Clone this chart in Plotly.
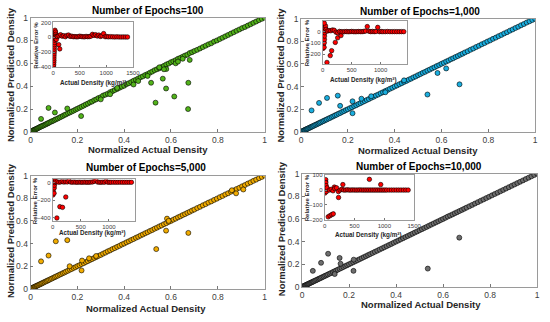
import plotly.graph_objects as go

W, H = 550, 322

# ---------------- data ----------------
actual = [0.003,0.006,0.009,0.012,0.015,0.018,0.021,0.024,0.027,0.030,
          0.034,0.038,0.042,0.046,0.050,0.055,0.060,0.065,0.070,0.075,
          0.080,0.086,0.092,0.098,0.104,0.110,0.117,0.124,0.131,0.138,
          0.145,0.152,0.160,0.168,0.176,0.184,0.192,0.200,0.209,0.218,
          0.227,0.236,0.245,0.254,0.263,0.272,0.281,0.290,0.300,0.310,
          0.320,0.330,0.340,0.350,0.360,0.370,0.380,0.390,0.400,0.410,
          0.420,0.430,0.440,0.450,0.460,0.470,0.480,0.490,0.500,0.510,
          0.520,0.530,0.540,0.550,0.560,0.570,0.580,0.590,0.600,0.610,
          0.620,0.630,0.640,0.650,0.660,0.670,0.680,0.690,0.700,0.712,
          0.724,0.736,0.748,0.760,0.772,0.784,0.796,0.808,0.820,0.832,
          0.844,0.856,0.868,0.880,0.892,0.904,0.916,0.928,0.940,0.952,
          0.964,0.976,0.988,1.000]

pred_100 = [0.004,0.007,0.010,0.014,0.016,0.020,0.022,0.026,0.028,0.032,
            0.036,0.040,0.045,0.048,0.053,0.056,0.062,0.066,0.072,0.076,
            0.082,0.088,0.094,0.099,0.106,0.112,0.118,0.126,0.133,0.140,
            0.148,0.154,0.163,0.170,0.178,0.186,0.195,0.203,0.212,0.221,
            0.230,0.240,0.248,0.259,0.266,0.278,0.285,0.296,0.304,0.318,
            0.326,0.334,0.348,0.356,0.366,0.376,0.386,0.396,0.404,0.418,
            0.426,0.436,0.448,0.456,0.468,0.478,0.486,0.498,0.506,0.518,
            0.528,0.540,0.548,0.556,0.568,0.578,0.590,0.598,0.610,0.618,
            0.628,0.640,0.648,0.658,0.668,0.676,0.690,0.698,0.708,0.718,
            0.730,0.742,0.754,0.766,0.776,0.790,0.800,0.812,0.824,0.836,
            0.848,0.860,0.872,0.884,0.896,0.908,0.918,0.930,0.942,0.954,
            0.966,0.978,0.989,0.998]
out_x_100 = [0.045,0.077,0.104,0.157,0.216,0.515,0.534,0.565,0.579,0.614,0.673,0.674,0.680,0.440,0.580,0.620,0.300,0.340,0.370,0.460,0.500,0.550,0.570,0.630,0.650]
out_y_100 = [0.114,0.210,0.170,0.205,0.139,0.430,0.256,0.466,0.380,0.310,0.200,0.430,0.630,0.415,0.550,0.600,0.285,0.330,0.385,0.445,0.490,0.565,0.548,0.615,0.640]

pred_1000 = [0.003,0.006,0.010,0.012,0.016,0.018,0.022,0.024,0.028,0.030,
             0.035,0.038,0.043,0.046,0.051,0.055,0.061,0.065,0.071,0.075,
             0.081,0.086,0.093,0.098,0.105,0.110,0.118,0.124,0.132,0.138,
             0.146,0.152,0.161,0.168,0.177,0.184,0.193,0.200,0.210,0.218,
             0.228,0.236,0.246,0.254,0.264,0.272,0.282,0.290,0.301,0.310,
             0.321,0.330,0.341,0.350,0.361,0.370,0.381,0.390,0.401,0.410,
             0.421,0.430,0.441,0.450,0.461,0.470,0.481,0.490,0.501,0.510,
             0.521,0.530,0.541,0.550,0.561,0.570,0.581,0.590,0.601,0.610,
             0.621,0.630,0.641,0.650,0.661,0.670,0.681,0.690,0.701,0.712,
             0.725,0.736,0.749,0.760,0.773,0.784,0.797,0.808,0.821,0.832,
             0.845,0.856,0.869,0.880,0.893,0.904,0.917,0.928,0.941,0.952,
             0.965,0.976,0.988,0.998]
out_x_1000 = [0.045,0.077,0.111,0.157,0.167,0.220,0.220,0.540,0.583,0.620,0.677,0.258,0.300,0.360,0.440]
out_y_1000 = [0.190,0.256,0.300,0.320,0.230,0.165,0.270,0.330,0.520,0.560,0.420,0.293,0.315,0.350,0.455]

pred_5000 = [0.004,0.007,0.009,0.013,0.015,0.019,0.021,0.025,0.027,0.031,
             0.034,0.039,0.042,0.047,0.050,0.056,0.060,0.066,0.070,0.076,
             0.080,0.087,0.092,0.099,0.104,0.111,0.117,0.125,0.131,0.139,
             0.145,0.153,0.160,0.169,0.176,0.185,0.192,0.201,0.209,0.219,
             0.227,0.237,0.245,0.255,0.263,0.273,0.281,0.291,0.300,0.311,
             0.320,0.331,0.340,0.351,0.360,0.371,0.380,0.391,0.400,0.411,
             0.420,0.431,0.440,0.451,0.460,0.471,0.480,0.491,0.500,0.511,
             0.520,0.531,0.540,0.551,0.560,0.571,0.580,0.591,0.600,0.611,
             0.620,0.631,0.640,0.651,0.660,0.671,0.680,0.691,0.700,0.713,
             0.724,0.737,0.748,0.761,0.772,0.785,0.796,0.809,0.820,0.833,
             0.844,0.857,0.868,0.881,0.892,0.905,0.916,0.929,0.940,0.953,
             0.964,0.977,0.988,1.000]
out_x_5000 = [0.045,0.077,0.108,0.157,0.167,0.218,0.220,0.250,0.280,0.537,0.579,0.583,0.590,0.674,0.878,0.909,0.860]
out_y_5000 = [0.243,0.294,0.420,0.430,0.200,0.163,0.250,0.270,0.290,0.351,0.514,0.620,0.600,0.494,0.843,0.877,0.870]

pred_10000 = [0.003,0.006,0.009,0.012,0.015,0.018,0.021,0.024,0.027,0.030,
              0.034,0.038,0.042,0.046,0.050,0.055,0.060,0.065,0.070,0.075,
              0.080,0.086,0.092,0.098,0.104,0.110,0.117,0.124,0.131,0.138,
              0.145,0.152,0.160,0.168,0.176,0.184,0.192,0.200,0.209,0.218,
              0.227,0.236,0.245,0.254,0.263,0.272,0.281,0.290,0.300,0.310,
              0.320,0.330,0.340,0.350,0.360,0.370,0.380,0.390,0.400,0.410,
              0.420,0.430,0.440,0.450,0.460,0.470,0.480,0.490,0.500,0.510,
              0.520,0.530,0.540,0.550,0.560,0.570,0.580,0.590,0.600,0.610,
              0.621,0.630,0.640,0.650,0.660,0.670,0.680,0.690,0.700,0.712,
              0.724,0.736,0.748,0.760,0.772,0.784,0.796,0.808,0.820,0.832,
              0.844,0.856,0.868,0.880,0.892,0.904,0.916,0.928,0.940,0.952,
              0.964,0.976,0.988,1.000]
out_x_10000 = [0.046,0.081,0.111,0.139,0.160,0.164,0.219,0.220,0.535,0.669]
out_y_10000 = [0.142,0.213,0.293,0.114,0.256,0.205,0.142,0.241,0.162,0.435]

# inset data: actual density (kg/m3) vs relative error (%)
band_d = [80,110,140,170,200,230,260,290,320,350,380,410,440,470,500,530,560,590,620,650,
          680,710,740,770,800,830,860,890,920,950,980,1010,1040,1080,1120,1160,1200,1240,1280,1320,1360,1400]

err_d_100 = [8,10,12,14,15,16,18,20,20,22,24,25,26,28,30,30,32,34,35,38,40,42,45,50,55,60,70,105,124] + band_d
err_e_100 = [-400,-370,-340,-310,-280,-250,-220,-190,-160,-130,-100,-70,-40,-10,20,50,80,95,60,30,10,-20,70,40,15,-30,10,-99,-156] + \
            [12,20,35,15,22,8,25,30,12,15,8,10,6,8,15,10,8,6,12,8,10,15,40,25,35,18,30,12,20,50,8,10,6,8,6,5,6,5,4,5,4,4]

err_d_1000 = [5,8,10,12,15,18,20,22,25,28,30,32,35,40,45,50,28,60,74,131,155,218,259,316] + band_d
err_e_1000 = [-150,-120,-90,-60,-30,0,20,40,-140,-100,-70,-40,-10,10,30,50,76,20,-275,-214,-170,-96,-55,-35] + \
             [5,10,8,15,12,-5,-10,2,0,-2,0,1,-1,0,2,0,-1,0,1,0,0,2,5,45,3,0,2,0,1,38,0,1,0,0,1,0,0,0,0,0,0,0]

err_d_5000 = [5,8,10,12,15,18,20,25,28,30,35,40,45,50,75,128,175,233] + band_d
err_e_5000 = [-140,-110,-80,-50,-20,10,30,-120,-60,-30,0,20,25,10,-400,-272,-280,-163] + \
             [10,5,8,12,6,10,8,20,6,5,8,5,4,6,5,4,6,5,4,5,6,8,15,25,6,5,4,6,5,15,4,5,4,5,4,4,5,4,4,4,4,4]

err_d_10000 = [5,8,10,12,15,18,20,25,28,30,35,40,60,90,120,145,233,163,305,750,940] + band_d
err_e_10000 = [-20,0,20,40,60,70,50,30,10,-10,5,15,-180,-172,-165,-160,-50,20,37,72,37] + \
              [0,5,-5,10,15,-10,0,5,0,0,2,0,0,1,0,0,0,1,0,0,0,0,0,0,0,0,0,0,0,0,0,0,0,0,0,0,0,0,0,0,0,0]

titles = ["Number of Epochs=100", "Number of Epochs=1,000", "Number of Epochs=5,000", "Number of Epochs=10,000"]
colors = ["#52b31a", "#1aaedf", "#f2ac00", "#6e6e6e"]
preds = [pred_100, pred_1000, pred_5000, pred_10000]
outs = [(out_x_100, out_y_100), (out_x_1000, out_y_1000), (out_x_5000, out_y_5000), (out_x_10000, out_y_10000)]
insets = [(err_d_100, err_e_100), (err_d_1000, err_e_1000), (err_d_5000, err_e_5000), (err_d_10000, err_e_10000)]
main_ticks = [0, 0.2, 0.4, 0.6, 0.8, 1]
main_ticktext = ["0", "0.2", "0.4", "0.6", "0.8", "1"]

# ---------------- layout geometry (pixels) ----------------
main_box = [(29, 267, 13, 131), (304, 542, 14, 131), (29, 267, 176, 293), (305, 544, 174, 291)]
inset_box = [(52, 133, 18, 64), (326, 412, 16.5, 61), (51.5, 135, 180, 223), (328, 419, 175.5, 222)]
inset_xr = [[0, 1500], [0, 1460], [0, 1460], [0, 1500]]
inset_yr = [[-400, 200], [-290, 95], [-435, 36], [-202, 101]]
inset_yt = [[-400, -200, 0, 200], [-200, -100, 0], [-400, -200, 0], [-200, -100, 0, 100]]

title_pos = [(148, 6), (425, 6.5), (146, 168), (424, 167)]
xlab_pos = [(148, 149.5), (423, 150), (146, 313), (426, 309.5)]
ylab_pos = [(8.5, 72), (283.5, 72), (8.5, 233), (284, 231)]
ixlab_pos = [(92.7, 80.5), (367, 77), (92, 235), (372, 237.5)]
iylab_pos = [(34.5, 41), (309.5, 39), (33, 202), (309.5, 199)]

def px(x):
    return x / W

def py(y):
    return 1 - y / H

FONT = "Liberation Sans, Arial, sans-serif"

fig = go.Figure()
layout = dict(width=W, height=H, margin=dict(l=0, r=0, t=0, b=0),
              paper_bgcolor="white", plot_bgcolor="white", showlegend=False,
              font=dict(family=FONT, color="#262626"))

axis_common = dict(showline=True, mirror=True, linecolor="#9a9a9a", linewidth=0.8,
                   ticks="inside", ticklen=3, tickcolor="#777", tickwidth=0.7,
                   showgrid=False, zeroline=False)

annotations = []
for i in range(4):
    n = i + 1
    sfx = "" if n == 1 else str(n)
    x0, x1, y0, y1 = main_box[i]
    layout[f"xaxis{sfx}"] = dict(axis_common, domain=[px(x0), px(x1)], range=[0, 1],
                                 tickvals=main_ticks, ticktext=main_ticktext,
                                 tickfont=dict(size=8.5, color="#404040"), anchor=f"y{sfx}")
    layout[f"yaxis{sfx}"] = dict(axis_common, domain=[py(y1), py(y0)], range=[0, 1],
                                 tickvals=main_ticks, ticktext=main_ticktext,
                                 tickfont=dict(size=8.5, color="#404040"), anchor=f"x{sfx}")
    fig.add_trace(go.Scatter(x=actual, y=preds[i], mode="markers", xaxis=f"x{sfx}", yaxis=f"y{sfx}",
                             marker=dict(size=5, color=colors[i], line=dict(color="black", width=0.6))))
    fig.add_trace(go.Scatter(x=outs[i][0], y=outs[i][1], mode="markers", xaxis=f"x{sfx}", yaxis=f"y{sfx}",
                             marker=dict(size=5, color=colors[i], line=dict(color="black", width=0.6))))

for i in range(4):
    n = i + 5
    x0, x1, y0, y1 = inset_box[i]
    layout[f"xaxis{n}"] = dict(axis_common, domain=[px(x0), px(x1)], range=inset_xr[i],
                               tickvals=[0, 500, 1000, 1500], ticklen=2,
                               tickfont=dict(size=6, color="#404040"), anchor=f"y{n}")
    layout[f"yaxis{n}"] = dict(axis_common, domain=[py(y1), py(y0)], range=inset_yr[i],
                               tickvals=inset_yt[i], ticklen=2,
                               tickfont=dict(size=6, color="#404040"), anchor=f"x{n}")
    fig.add_trace(go.Scatter(x=insets[i][0], y=insets[i][1], mode="markers",
                             xaxis=f"x{n}", yaxis=f"y{n}",
                             marker=dict(size=4.5, color="#ff0000", line=dict(color="black", width=0.6))))

for i in range(4):
    annotations.append(dict(text=f"<b>{titles[i]}</b>", x=px(title_pos[i][0]), y=py(title_pos[i][1]),
                            xref="paper", yref="paper", showarrow=False, xanchor="center", yanchor="middle",
                            borderpad=0, font=dict(size=10, color="#000")))
    annotations.append(dict(text="<b>Normalized Actual Density</b>", x=px(xlab_pos[i][0]), y=py(xlab_pos[i][1]),
                            xref="paper", yref="paper", showarrow=False, xanchor="center", yanchor="middle",
                            borderpad=0, font=dict(size=9.5, color="#262626")))
    annotations.append(dict(text="<b>Normalized Predicted Density</b>", x=px(ylab_pos[i][0]), y=py(ylab_pos[i][1]),
                            xref="paper", yref="paper", showarrow=False, xanchor="center", yanchor="middle",
                            borderpad=0, textangle=-90, font=dict(size=9.5, color="#262626")))
    annotations.append(dict(text="<b>Actual Density (kg/m³)</b>", x=px(ixlab_pos[i][0]), y=py(ixlab_pos[i][1]),
                            xref="paper", yref="paper", showarrow=False, xanchor="center", yanchor="middle",
                            borderpad=0, font=dict(size=6.3, color="#262626")))
    annotations.append(dict(text="<b>Relative Error %</b>", x=px(iylab_pos[i][0]), y=py(iylab_pos[i][1]),
                            xref="paper", yref="paper", showarrow=False, xanchor="center", yanchor="middle",
                            borderpad=0, textangle=-90, font=dict(size=6, color="#262626")))

layout["annotations"] = annotations
fig.update_layout(**layout)
fig.write_html("out.html", config={"displayModeBar": False},
               post_script="document.body.style.margin='0';document.body.style.overflow='hidden';")
